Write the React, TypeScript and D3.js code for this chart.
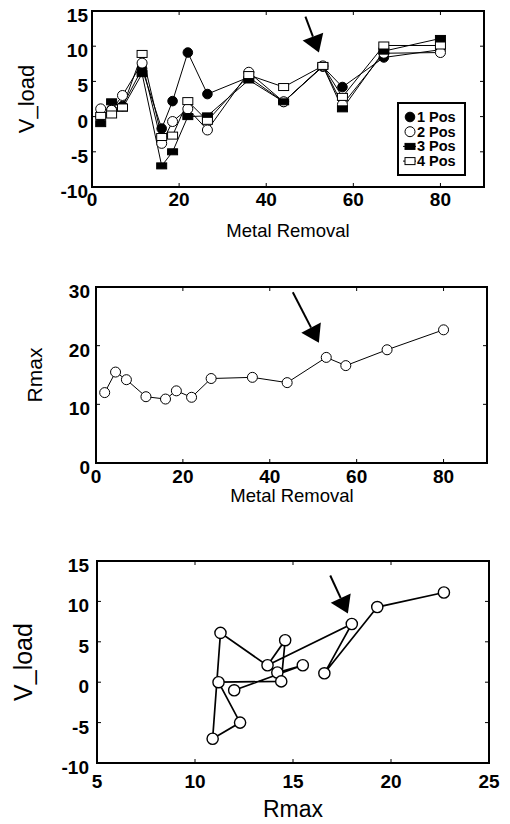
import React from 'react';
import * as d3 from 'd3';

// metal removal steps (x of panels 1 and 2)
const metalRemoval = [2, 4.5, 7, 11.5, 16, 18.5, 22, 26.5, 36, 44, 53, 57.5, 67, 80];

// V_load per position
const pos1 = [0, 1, 1.5, 6.8, -1.7, 2.2, 9.1, 3.2, 5.6, 2.1, 7.1, 4.2, 8.4, 9.5];
const pos2 = [1.1, 0.9, 3, 7.6, -3.8, -0.7, 1.1, -1.9, 6.3, 2.1, 7.2, 1.7, 9, 9.1];
const pos3 = [-1, 2.1, 1.2, 6.1, -7, -5, 0, 0.1, 5.2, 2.1, 7.2, 1.1, 9.3, 11.1];
const pos4 = [0.1, 0.3, 1.3, 8.9, -2.9, -2.7, 2.2, -0.6, 5.9, 4.2, 7.2, 2.8, 10.1, 10.1];

// Rmax per step
const rmax = [12, 15.5, 14.2, 11.3, 10.9, 12.3, 11.2, 14.4, 14.6, 13.7, 18, 16.6, 19.3, 22.7];

const xTicksMR = [0, 20, 40, 60, 80];
const yTicksV = [-10, -5, 0, 5, 10, 15];
const yTicksR = [0, 10, 20, 30];
const xTicksR = [5, 10, 15, 20, 25];

const legendLabels = ['1 Pos', '2 Pos', '3 Pos', '4 Pos'];

// arrows: [tail, tip] in data units
const arrow1 = [[49, 14.2], [52.1, 9.1]];
const arrow2 = [[45.3, 29.1], [51.3, 20.5]];
const arrow3 = [[16.9, 13.2], [17.8, 8.5]];

const FONT = 'Liberation Sans, Arial, Helvetica, sans-serif';

type Sc = d3.ScaleLinear<number, number>;

function Frame({ x, y, xTicks, yTicks, xOff, yGap }: { x: Sc; y: Sc; xTicks: number[]; yTicks: number[]; xOff: number; yGap: number }) {
  const [x0, x1] = x.range();
  const [y0, y1] = y.range(); // y0 bottom
  const tl = 4;
  return (
    <g>
      {xTicks.map(t => (
        <g key={'x' + t}>
          <line x1={x(t)} x2={x(t)} y1={y0} y2={y0 - tl} stroke="#000" strokeWidth={1} />
          <line x1={x(t)} x2={x(t)} y1={y1} y2={y1 + tl} stroke="#000" strokeWidth={1} />
          <text x={x(t)} y={y0 + xOff} textAnchor="middle" fontSize={19} fontWeight="bold" fontFamily={FONT} fill="#000">{t}</text>
        </g>
      ))}
      {yTicks.map(t => (
        <g key={'y' + t}>
          <line x1={x0} x2={x0 + tl} y1={y(t)} y2={y(t)} stroke="#000" strokeWidth={1} />
          <line x1={x1} x2={x1 - tl} y1={y(t)} y2={y(t)} stroke="#000" strokeWidth={1} />
          <text x={x0 - yGap} y={y(t) + 11} textAnchor="end" fontSize={19} fontWeight="bold" fontFamily={FONT} fill="#000">{t}</text>
        </g>
      ))}
      <rect x={x0} y={y1} width={x1 - x0} height={y0 - y1} fill="none" stroke="#000" strokeWidth={2} />
    </g>
  );
}

function Arrow({ x, y, a }: { x: Sc; y: Sc; a: number[][] }) {
  const tx = x(a[0][0]), ty = y(a[0][1]);
  const hx = x(a[1][0]), hy = y(a[1][1]);
  const dx = hx - tx, dy = hy - ty;
  const len = Math.hypot(dx, dy);
  const ux = dx / len, uy = dy / len;
  const hl = 17, hw = 11;
  const bx = hx - ux * hl, by = hy - uy * hl;
  const pts = [[hx, hy], [bx - uy * hw, by + ux * hw], [bx + uy * hw, by - ux * hw]];
  return (
    <g>
      <line x1={tx} y1={ty} x2={bx} y2={by} stroke="#000" strokeWidth={2} />
      <polygon points={pts.map(p => p.join(',')).join(' ')} fill="#000" />
    </g>
  );
}

export default function App() {
  // panel 1
  const x1 = d3.scaleLinear().domain([0, 90]).range([92, 484]);
  const y1 = d3.scaleLinear().domain([-10, 15]).range([187, 11]);
  // panel 2
  const x2 = d3.scaleLinear().domain([0, 90]).range([96, 487]);
  const y2 = d3.scaleLinear().domain([0, 30]).range([463, 287]);
  // panel 3
  const x3 = d3.scaleLinear().domain([5, 25]).range([97, 489]);
  const y3 = d3.scaleLinear().domain([-10, 15]).range([763, 561]);

  const series = [pos1, pos2, pos3, pos4];
  const line1 = d3.line<number>().x((_, i) => x1(metalRemoval[i])).y(v => y1(v));
  const line2 = d3.line<number>().x((_, i) => x2(metalRemoval[i])).y(v => y2(v));
  const line3 = d3.line<number>().x((_, i) => x3(rmax[i])).y(v => y3(v));

  const marker = (k: number, cx: number, cy: number, key: string) => {
    if (k === 0) return <circle key={key} cx={cx} cy={cy} r={4.8} fill="#000" stroke="#000" />;
    if (k === 1) return <circle key={key} cx={cx} cy={cy} r={5} fill="#fff" stroke="#000" strokeWidth={1} />;
    if (k === 2) return <rect key={key} x={cx - 5} y={cy - 3} width={10} height={6} fill="#000" stroke="#000" />;
    return <rect key={key} x={cx - 5} y={cy - 3.5} width={10} height={7} fill="#fff" stroke="#000" strokeWidth={1} />;
  };

  return (
    <svg width={510} height={824} style={{ position: 'absolute', left: 0, top: 0, background: '#fff' }}>
      <rect width={510} height={824} fill="#fff" />

      {/* ---------- panel 1 ---------- */}
      {series.map((s, k) => (
        <path key={'l' + k} d={line1(s) || ''} fill="none" stroke="#000" strokeWidth={1} />
      ))}
      {series.map((s, k) => s.map((v, i) => marker(k, x1(metalRemoval[i]), y1(v), `m${k}-${i}`)))}
      <Frame x={x1} y={y1} xTicks={xTicksMR} yTicks={yTicksV} xOff={19} yGap={4} />
      <Arrow x={x1} y={y1} a={arrow1} />
      <g>
        <rect x={398} y={103} width={67} height={72} fill="#fff" stroke="#000" strokeWidth={2} />
        {legendLabels.map((lab, k) => {
          const ly = 117 + k * 14.7;
          return (
            <g key={lab}>
              {k >= 2 && <line x1={403} x2={416} y1={ly} y2={ly} stroke="#000" strokeWidth={1} />}
              {marker(k, 410, ly, 'lg' + k)}
              <text x={417} y={ly + 5} fontSize={14.5} fontWeight="bold" fontFamily={FONT}>{lab}</text>
            </g>
          );
        })}
      </g>
      <text transform={`translate(34,${(11 + 187) / 2}) rotate(-90)`} textAnchor="middle" fontSize={22} fontFamily={FONT}>V_load</text>
      <text x={288} y={237} textAnchor="middle" fontSize={18.5} fontFamily={FONT}>Metal Removal</text>

      {/* ---------- panel 2 ---------- */}
      <path d={line2(rmax) || ''} fill="none" stroke="#000" strokeWidth={1} />
      {rmax.map((v, i) => marker(1, x2(metalRemoval[i]), y2(v), 'r' + i))}
      <Frame x={x2} y={y2} xTicks={xTicksMR} yTicks={yTicksR} xOff={20} yGap={6} />
      <Arrow x={x2} y={y2} a={arrow2} />
      <text transform={`translate(42,${(287 + 463) / 2}) rotate(-90)`} textAnchor="middle" fontSize={21} fontFamily={FONT}>Rmax</text>
      <text x={292} y={502} textAnchor="middle" fontSize={18.5} fontFamily={FONT}>Metal Removal</text>

      {/* ---------- panel 3 ---------- */}
      <path d={line3(pos3) || ''} fill="none" stroke="#000" strokeWidth={1.7} />
      {pos3.map((v, i) => (
        <circle key={'p' + i} cx={x3(rmax[i])} cy={y3(v)} r={5.6} fill="#fff" stroke="#000" strokeWidth={1.4} />
      ))}
      <Frame x={x3} y={y3} xTicks={xTicksR} yTicks={yTicksV} xOff={25} yGap={8} />
      <Arrow x={x3} y={y3} a={arrow3} />
      <text transform={`translate(32,${(561 + 763) / 2}) rotate(-90)`} textAnchor="middle" fontSize={25} fontFamily={FONT}>V_load</text>
      <text x={293} y={817} textAnchor="middle" fontSize={23} fontFamily={FONT}>Rmax</text>
    </svg>
  );
}
